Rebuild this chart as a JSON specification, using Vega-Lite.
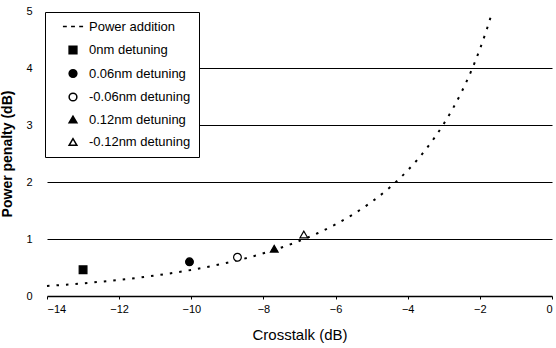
{
  "$schema": "https://vega.github.io/schema/vega-lite/v6.json",
  "width": 505,
  "height": 285,
  "autosize": {"type": "none"},
  "padding": {"left": 47, "top": 11, "right": 4, "bottom": 52},
  "background": "white",
  "config": {
    "view": {"stroke": null},
    "font": "Liberation Sans",
    "axis": {"labelFont": "Liberation Sans", "titleFont": "Liberation Sans", "labelColor": "black", "titleColor": "black"}
  },
  "datasets": {
    "curve": [
      {"crosstalk": -14, "penalty": 0.176},
      {"crosstalk": -13, "penalty": 0.223},
      {"crosstalk": -12, "penalty": 0.283},
      {"crosstalk": -11, "penalty": 0.359},
      {"crosstalk": -10, "penalty": 0.458},
      {"crosstalk": -9, "penalty": 0.584},
      {"crosstalk": -8, "penalty": 0.749},
      {"crosstalk": -7, "penalty": 0.967},
      {"crosstalk": -6.5, "penalty": 1.101},
      {"crosstalk": -6, "penalty": 1.256},
      {"crosstalk": -5.5, "penalty": 1.438},
      {"crosstalk": -5, "penalty": 1.651},
      {"crosstalk": -4.5, "penalty": 1.903},
      {"crosstalk": -4, "penalty": 2.205},
      {"crosstalk": -3.5, "penalty": 2.570},
      {"crosstalk": -3, "penalty": 3.021},
      {"crosstalk": -2.75, "penalty": 3.287},
      {"crosstalk": -2.5, "penalty": 3.589},
      {"crosstalk": -2.25, "penalty": 3.932},
      {"crosstalk": -2, "penalty": 4.330},
      {"crosstalk": -1.8, "penalty": 4.694},
      {"crosstalk": -1.65, "penalty": 5.0}
    ],
    "points": [
      {"crosstalk": -13.0, "penalty": 0.46, "series": "0nm detuning"},
      {"crosstalk": -10.05, "penalty": 0.6, "series": "0.06nm detuning"},
      {"crosstalk": -8.72, "penalty": 0.68, "series": "-0.06nm detuning"},
      {"crosstalk": -7.7, "penalty": 0.83, "series": "0.12nm detuning"},
      {"crosstalk": -6.88, "penalty": 1.08, "series": "-0.12nm detuning"}
    ]
  },
  "layer": [
    {
      "data": {"name": "curve"},
      "mark": {"type": "line", "color": "black", "strokeWidth": 2, "strokeDash": [2.5, 7], "interpolate": "monotone"},
      "encoding": {
        "x": {
          "field": "crosstalk", "type": "quantitative",
          "scale": {"domain": [-14, 0], "nice": false},
          "axis": {
            "title": "Crosstalk (dB)", "titleFontSize": 15, "titleFontWeight": "normal", "titlePadding": 13,
            "values": [-14, -12, -10, -8, -6, -4, -2, 0], "format": "d",
            "labelFontSize": 11, "labelPadding": 4,
            "domainColor": "black", "domainWidth": 1.5,
            "tickColor": "black", "tickSize": 3,
            "grid": false
          }
        },
        "y": {
          "field": "penalty", "type": "quantitative",
          "scale": {"domain": [0, 5], "nice": false},
          "axis": {
            "title": "Power penalty (dB)", "titleFontSize": 14, "titleFontWeight": "bold", "titlePadding": 11,
            "values": [0, 1, 2, 3, 4, 5], "format": "d",
            "labelFontSize": 11, "labelPadding": 15,
            "domain": false, "ticks": false,
            "grid": true, "gridColor": "black", "gridWidth": 1.2,
            "gridOpacity": {"condition": {"test": "datum.value == 5 || datum.value == 0", "value": 0}, "value": 1}
          }
        }
      }
    },
    {
      "data": {"name": "points"},
      "mark": {"type": "point", "filled": true, "opacity": 1, "size": 60, "stroke": "black", "strokeWidth": 1.2},
      "encoding": {
        "x": {"field": "crosstalk", "type": "quantitative"},
        "y": {"field": "penalty", "type": "quantitative"},
        "shape": {
          "field": "series", "type": "nominal",
          "scale": {
            "domain": ["Power addition", "0nm detuning", "0.06nm detuning", "-0.06nm detuning", "0.12nm detuning", "-0.12nm detuning"],
            "range": ["M-2.6,0H-1.6M-0.5,0H0.5M1.6,0H2.6", "square", "circle", "circle", "triangle-up", "triangle-up"]
          },
          "legend": {
            "title": null, "orient": "none", "legendX": -2, "legendY": 1,
            "strokeColor": "black", "fillColor": "white", "padding": 8,
            "labelFontSize": 13, "labelFont": "Liberation Sans", "labelColor": "black",
            "symbolSize": 60, "rowPadding": 8.5, "labelOffset": 9.5, "symbolOffset": 13.5,
            "encode": {"symbols": {"update": {"stroke": {"value": "black"}, "strokeWidth": {"value": 1.2}, "opacity": {"value": 1}}}}
          }
        },
        "fill": {
          "field": "series", "type": "nominal",
          "scale": {
            "domain": ["Power addition", "0nm detuning", "0.06nm detuning", "-0.06nm detuning", "0.12nm detuning", "-0.12nm detuning"],
            "range": ["transparent", "black", "black", "white", "black", "white"]
          },
          "legend": {
            "title": null, "orient": "none", "legendX": -2, "legendY": 1,
            "strokeColor": "black", "fillColor": "white", "padding": 8,
            "labelFontSize": 13, "labelFont": "Liberation Sans", "labelColor": "black",
            "symbolSize": 60, "rowPadding": 8.5, "labelOffset": 9.5, "symbolOffset": 13.5,
            "encode": {"symbols": {"update": {"stroke": {"value": "black"}, "strokeWidth": {"value": 1.2}, "opacity": {"value": 1}}}}
          }
        }
      }
    },
    {
      "mark": {"type": "rule", "color": "black", "strokeWidth": 1.5},
      "encoding": {"x": {"datum": 0, "type": "quantitative"}}
    }
  ]
}
